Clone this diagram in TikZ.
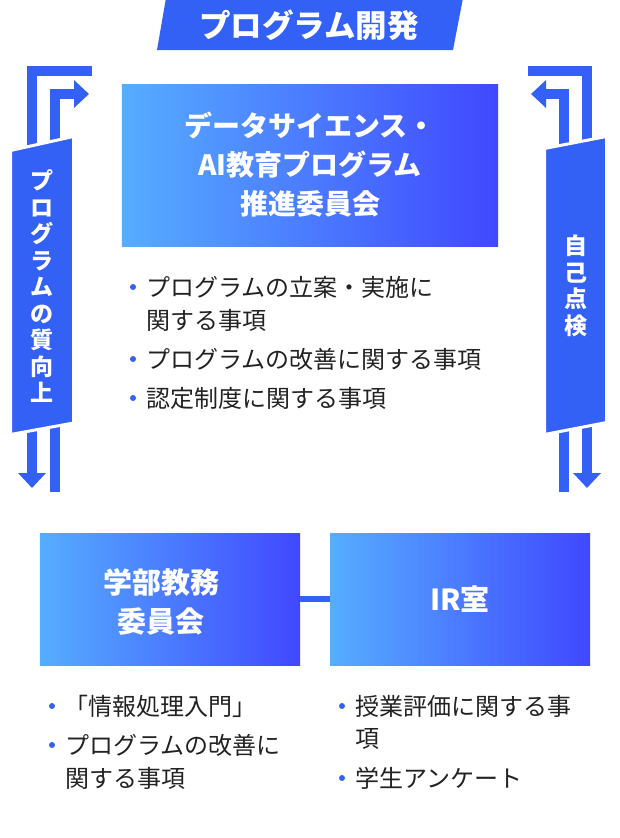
\documentclass[tikz,border=0pt]{standalone}
\usepackage{fontspec}
\setmainfont{Noto Sans CJK JP}
\usetikzlibrary{arrows.meta}
\definecolor{bandblue}{RGB}{51,97,245}
\definecolor{gradleft}{RGB}{86,173,255}
\definecolor{gradright}{RGB}{64,72,255}
\definecolor{inktext}{RGB}{34,34,34}

\begin{document}
\begin{tikzpicture}[x=1bp,y=-1bp,line join=miter,
  flow/.style={draw=bandblue,line width=10bp,-{Triangle[length=15bp,width=27bp]}},
  band/.style={fill=bandblue,draw=white,line width=3bp},
  box/.style={inner sep=0,minimum width=#1,minimum height=132bp,left color=gradleft,right color=gradright},
  boxtext/.style={text=white,align=center,font=\bfseries\fontsize{#1}{39bp}\selectfont},
  tate/.style={text=white,align=center,inner sep=0,font=\bfseries\fontsize{23bp}{26.5bp}\selectfont},
  dot/.style={circle,fill=bandblue,inner sep=0,minimum size=6bp},
  item/.style={anchor=west,inner sep=0,text=inktext,font=\fontsize{24bp}{33bp}\selectfont},
  link/.style={draw=bandblue,line width=6bp}]
\useasboundingbox (0,0) rectangle (620,838);
%%
\fill[bandblue] (157,50) -- (166,-2) -- (463,-2) -- (453,50) -- cycle;
\node (title) at (309,25) [boxtext=31.5bp] {プログラム開発};
%%
\draw[flow] (92,71) -- (32,71) -- (32,488);
\draw[flow] (55,492) -- (55,94) -- (89,94);
\draw[flow] (528,71) -- (587,71) -- (587,488);
\draw[flow] (564,492) -- (564,94) -- (531,94);
\filldraw[band] (10.5,150.5) -- (73.5,136.5) -- (73.5,423) -- (10.5,434.5) -- cycle;
\filldraw[band] (544.5,148.5) -- (606.5,136.5) -- (606.5,422.5) -- (544.5,434.5) -- cycle;
\node (tate_quality) at (42,286.5) [tate] {プ\\ロ\\グ\\ラ\\ム\\の\\質\\向\\上};
\node (tate_check) at (575.5,286) [tate] {自\\己\\点\\検};
%%
\node (box_suishin) at (310,165) [box=376bp,minimum height=162bp,boxtext=28bp]
  {データサイエンス・\\AI教育プログラム\\推進委員会};
\node (dot_1) at (133,287) [dot] {};
\node (item_1a) at (146,287) [item] {プログラムの立案・実施に};
\node (item_1b) at (146,320) [item] {関する事項};
\node (dot_2) at (133,359) [dot] {};
\node (item_2) at (146,359) [item] {プログラムの改善に関する事項};
\node (dot_3) at (133,398) [dot] {};
\node (item_3) at (146,398) [item] {認定制度に関する事項};
%%
\node (box_gakubu) at (170,599) [box=260bp] {};
\node (label_gakubu) at (161,602) [boxtext=29bp] {学部教務\\委員会};
\node (box_ir) at (460,599) [box=260bp,boxtext=29bp] {IR室};
\draw[link] (box_gakubu) -- (box_ir);
%%
\node (dot_4) at (52,706) [dot] {};
\node (item_4) at (64,706) [item] {「情報処理入門」};
\node (dot_5) at (52,745) [dot] {};
\node (item_5a) at (65,745) [item] {プログラムの改善に};
\node (item_5b) at (65,778) [item] {関する事項};
\node (dot_6) at (342,706) [dot] {};
\node (item_6a) at (355,706) [item] {授業評価に関する事};
\node (item_6b) at (355,739) [item] {項};
\node (dot_7) at (342,778) [dot] {};
\node (item_7) at (355,778) [item] {学生アンケート};
%
\end{tikzpicture}
\end{document}
